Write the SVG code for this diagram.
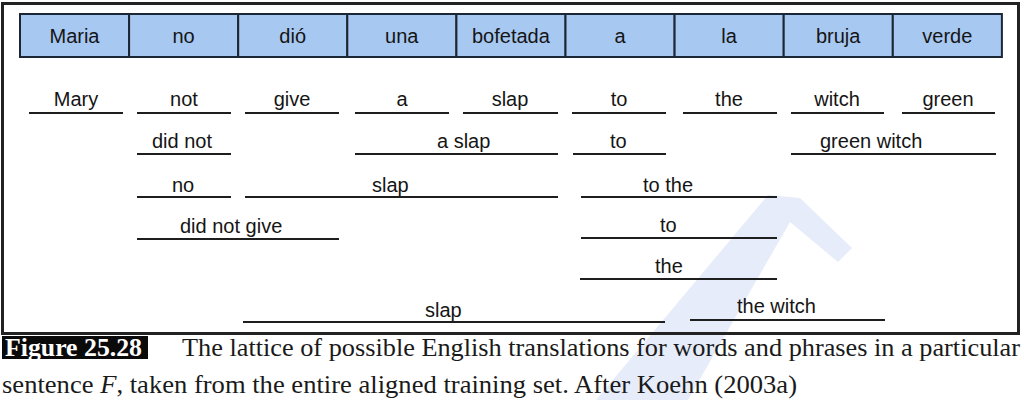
<svg xmlns="http://www.w3.org/2000/svg" width="1024" height="400" viewBox="0 0 1024 400">
<style>
.cell{fill:#a7c8f1;stroke:#1c2736;stroke-width:2}
.ct{font-family:"Liberation Sans",Arial,sans-serif;font-size:20px;fill:#151515;text-anchor:middle}
.pt{font-family:"Liberation Sans",Arial,sans-serif;font-size:20px;fill:#151515}
.pm{text-anchor:middle}
.ul{stroke:#1e1e1e;stroke-width:2}
.cap{font-family:"Liberation Serif","Times New Roman",Times,serif;font-size:26px;fill:#1a1a1a}
</style>
<rect width="1024" height="400" fill="#ffffff"/>
<g id="watermark">
<polygon points="596,400 768,195 800,198 852,248 838,262 790,222 688,400" fill="#e6ecf9"/>
</g>
<g id="frame"><rect x="2.5" y="3.5" width="1016" height="330" fill="none" stroke="#222" stroke-width="3"/></g>
<g id="source">
<g id="s1"><rect class="cell" x="20" y="14" width="109.1" height="43"/><text class="ct" x="74.5" y="43">Maria</text></g>
<g id="s2"><rect class="cell" x="129.1" y="14" width="109.1" height="43"/><text class="ct" x="183.6" y="43">no</text></g>
<g id="s3"><rect class="cell" x="238.2" y="14" width="109.1" height="43"/><text class="ct" x="292.7" y="43">dió</text></g>
<g id="s4"><rect class="cell" x="347.3" y="14" width="109.1" height="43"/><text class="ct" x="401.8" y="43">una</text></g>
<g id="s5"><rect class="cell" x="456.4" y="14" width="109.1" height="43"/><text class="ct" x="510.9" y="43">bofetada</text></g>
<g id="s6"><rect class="cell" x="565.5" y="14" width="109.1" height="43"/><text class="ct" x="620" y="43">a</text></g>
<g id="s7"><rect class="cell" x="674.6" y="14" width="109.1" height="43"/><text class="ct" x="729.1" y="43">la</text></g>
<g id="s8"><rect class="cell" x="783.7" y="14" width="109.1" height="43"/><text class="ct" x="838.2" y="43">bruja</text></g>
<g id="s9"><rect class="cell" x="892.8" y="14" width="109.1" height="43"/><text class="ct" x="947.3" y="43">verde</text></g>
</g>
<g id="row1">
<g id="e_mary"><text class="pt pm" x="76" y="106">Mary</text><line class="ul" x1="29" y1="113" x2="123" y2="113"/></g>
<g id="e_not"><text class="pt pm" x="184" y="106">not</text><line class="ul" x1="137" y1="113" x2="231" y2="113"/></g>
<g id="e_give"><text class="pt pm" x="292" y="106">give</text><line class="ul" x1="245" y1="113" x2="339" y2="113"/></g>
<g id="e_a"><text class="pt pm" x="402" y="106">a</text><line class="ul" x1="355" y1="113" x2="449" y2="113"/></g>
<g id="e_slap"><text class="pt pm" x="510" y="106">slap</text><line class="ul" x1="463" y1="113" x2="558" y2="113"/></g>
<g id="e_to"><text class="pt pm" x="619" y="106">to</text><line class="ul" x1="572" y1="113" x2="666" y2="113"/></g>
<g id="e_the"><text class="pt pm" x="729" y="106">the</text><line class="ul" x1="683" y1="113" x2="777" y2="113"/></g>
<g id="e_witch"><text class="pt pm" x="837" y="106">witch</text><line class="ul" x1="791" y1="113" x2="884" y2="113"/></g>
<g id="e_green"><text class="pt pm" x="948" y="106">green</text><line class="ul" x1="902" y1="113" x2="995" y2="113"/></g>
</g>
<g id="row2">
<g id="e_didnot"><text class="pt" x="152" y="148">did not</text><line class="ul" x1="137" y1="154" x2="231" y2="154"/></g>
<g id="e_aslap"><text class="pt" x="437" y="148">a slap</text><line class="ul" x1="355" y1="154" x2="558" y2="154"/></g>
<g id="e_to2"><text class="pt" x="610" y="148">to</text><line class="ul" x1="573" y1="154" x2="666" y2="154"/></g>
<g id="e_greenwitch"><text class="pt" x="820" y="148">green witch</text><line class="ul" x1="791" y1="154" x2="996" y2="154"/></g>
</g>
<g id="row3">
<g id="e_no"><text class="pt" x="172" y="192">no</text><line class="ul" x1="137" y1="197" x2="231" y2="197"/></g>
<g id="e_slap2"><text class="pt" x="372" y="192">slap</text><line class="ul" x1="245" y1="197" x2="558" y2="197"/></g>
<g id="e_tothe"><text class="pt" x="643" y="192">to the</text><line class="ul" x1="581" y1="197" x2="777" y2="197"/></g>
</g>
<g id="row4">
<g id="e_didnotgive"><text class="pt" x="180" y="233">did not give</text><line class="ul" x1="137" y1="239" x2="339" y2="239"/></g>
<g id="e_to3"><text class="pt" x="660" y="232">to</text><line class="ul" x1="581" y1="238" x2="777" y2="238"/></g>
</g>
<g id="row5">
<g id="e_the2"><text class="pt" x="655" y="273">the</text><line class="ul" x1="580" y1="279" x2="777" y2="279"/></g>
</g>
<g id="row6">
<g id="e_slap3"><text class="pt" x="425" y="317">slap</text><line class="ul" x1="243" y1="322" x2="665" y2="322"/></g>
<g id="e_thewitch"><text class="pt" x="737" y="313">the witch</text><line class="ul" x1="690" y1="320" x2="885" y2="320"/></g>
</g>
<g id="caption">
<rect x="2" y="336" width="146" height="23" fill="#0a0a0a"/>
<text class="cap" x="5" y="356" font-weight="bold" style="fill:#fff" textLength="137" lengthAdjust="spacingAndGlyphs">Figure 25.28</text>
<text class="cap" x="182" y="356" textLength="838" lengthAdjust="spacingAndGlyphs">The lattice of possible English translations for words and phrases in a particular</text>
<text class="cap" x="2" y="393" textLength="795" lengthAdjust="spacingAndGlyphs">sentence <tspan font-style="italic">F</tspan>, taken from the entire aligned training set. After Koehn (2003a)</text>
</g>
</svg>
